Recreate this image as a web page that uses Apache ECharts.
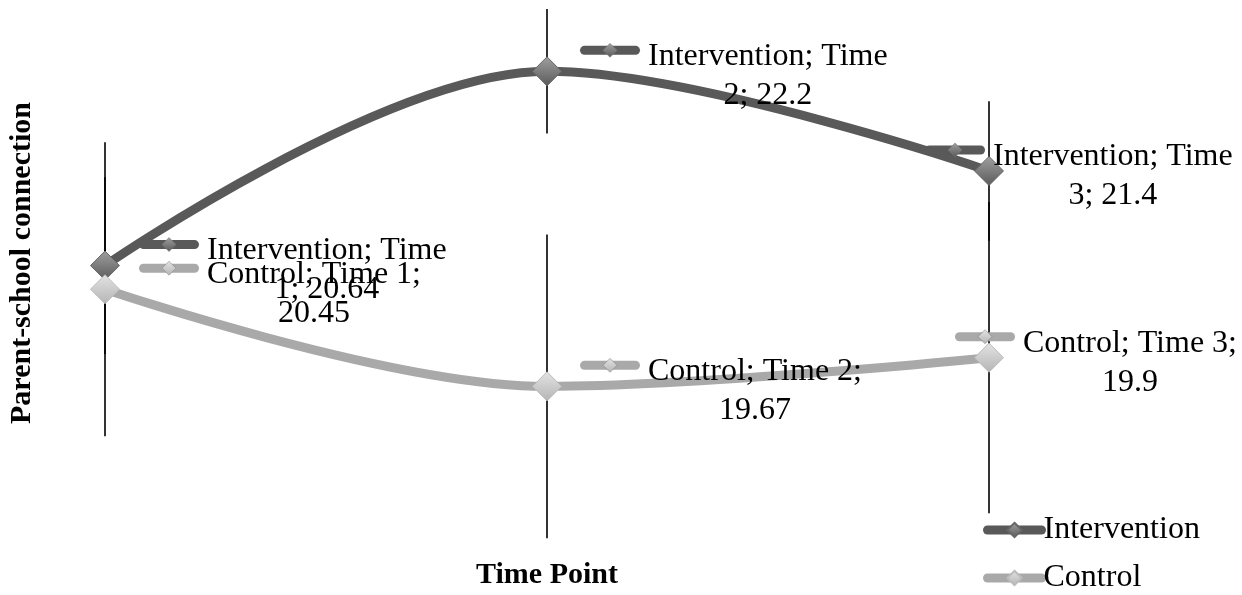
<!DOCTYPE html>
<html>
<head>
<meta charset="utf-8">
<script src="https://cdn.jsdelivr.net/npm/echarts@6/dist/echarts.min.js"></script>
</head>
<body style="margin:0;background:#fff">
<div id="main" style="width:1242px;height:595px;"></div>

<script type="text/javascript">
// data
var timePoints = ['Time 1', 'Time 2', 'Time 3'];
var intervention = [20.64, 22.2, 21.4];
var control = [20.45, 19.67, 19.9];
// error bar half-lengths (estimated)
var interventionErr = [0.71, 0.5, 0.56];
var controlErr = [1.18, 1.22, 1.25];

// label key horizontal shift from the point (Excel pushes the last ones left)
var interventionLabelDx = [64, 63, -34];
var controlLabelDx = [64, 63, -4];

var FONT = '"Liberation Serif", "Times New Roman", serif';
var DARK = '#595959';
var LIGHT = '#a9a9a9';

function grad(top, bottom) {
    return new echarts.graphic.LinearGradient(0, 0, 0, 1, [
        { offset: 0, color: top },
        { offset: 1, color: bottom }
    ]);
}

// wrap "Name; Time n; value" like excel does
function wrapLabel(s, maxChars) {
    var words = s.split(' ');
    var lines = [];
    var cur = '';
    for (var i = 0; i < words.length; i++) {
        var t = cur ? cur + ' ' + words[i] : words[i];
        if (t.length > maxChars && cur) {
            lines.push(cur);
            cur = words[i];
        } else {
            cur = t;
        }
    }
    lines.push(cur);
    return lines;
}

function errData(vals, errs) {
    var d = [];
    for (var i = 0; i < vals.length; i++) d.push([i, vals[i], errs[i]]);
    return d;
}

function errSeries(name, vals, errs) {
    return {
        type: 'custom',
        name: name + ' err',
        z: 1,
        silent: true,
        data: errData(vals, errs),
        renderItem: function (params, api) {
            var i = api.value(0), v = api.value(1), e = api.value(2);
            var p1 = api.coord([i, v + e]);
            var p2 = api.coord([i, v - e]);
            return {
                type: 'line',
                shape: { x1: p1[0], y1: p1[1], x2: p2[0], y2: p2[1] },
                style: { stroke: '#000', lineWidth: 1.6 }
            };
        }
    };
}

function labelSeries(name, vals, dxs, lineColor, dTop, dBottom) {
    return {
        type: 'custom',
        name: name + ' labels',
        z: 10,
        silent: true,
        data: errData(vals, dxs),
        renderItem: function (params, api) {
            var i = api.value(0), v = api.value(1), dx = api.value(2);
            var p = api.coord([i, v]);
            var kx = p[0] + dx, ky = p[1] - 21;
            var lines = wrapLabel(name + '; ' + timePoints[i] + '; ' + v, 18);
            var txt = lines.map(function (l) { return '{c|' + l + '}'; }).join('\n');
            return {
                type: 'group',
                children: [{
                    type: 'rect',
                    shape: { x: kx - 30, y: ky - 4.5, width: 60, height: 9, r: 4.5 },
                    style: { fill: lineColor }
                }, {
                    type: 'polygon',
                    shape: { points: [[kx, ky - 7], [kx + 7, ky], [kx, ky + 7], [kx - 7, ky]] },
                    style: { fill: grad(dTop, dBottom), stroke: '#777', lineWidth: 0.5 }
                }, {
                    type: 'text',
                    x: kx + 38,
                    y: ky - 13,
                    style: {
                        text: txt,
                        align: 'left',
                        verticalAlign: 'top',
                        fill: '#000',
                        fontSize: 32,
                        fontFamily: FONT,
                        lineHeight: 39,
                        rich: {
                            c: { align: 'center', fontSize: 32, fontFamily: FONT, lineHeight: 39, fill: '#000' }
                        }
                    }
                }]
            };
        }
    };
}

var option = {
    backgroundColor: '#fff',
    animation: false,
    grid: { left: 105, right: 253, top: 34, height: 500 },
    xAxis: {
        type: 'category',
        data: timePoints,
        boundaryGap: false,
        name: 'Time Point',
        nameLocation: 'middle',
        nameGap: 28,
        nameTextStyle: { fontFamily: FONT, fontSize: 30, fontWeight: 'bold', color: '#000' },
        axisLine: { show: false },
        axisTick: { show: false },
        axisLabel: { show: false },
        splitLine: { show: false }
    },
    yAxis: {
        type: 'value',
        min: 18.5,
        max: 22.5,
        show: false
    },
    legend: {
        orient: 'vertical',
        left: 983,
        top: 514,
        padding: 0,
        itemWidth: 54,
        itemHeight: 18,
        itemGap: 16,
        data: ['Intervention', 'Control'],
        textStyle: { fontFamily: FONT, fontSize: 32, color: '#000', padding: [0, 0, 0, -3] },
        lineStyle: { width: 9, cap: 'round' }
    },
    graphic: [{
        type: 'text',
        x: 22,
        y: 263,
        rotation: Math.PI / 2,
        style: {
            text: 'Parent-school connection',
            fontFamily: FONT,
            fontSize: 30,
            fontWeight: 'bold',
            fill: '#000',
            align: 'center',
            verticalAlign: 'middle'
        }
    }],
    series: [
        errSeries('Intervention', intervention, interventionErr),
        errSeries('Control', control, controlErr),
        {
            name: 'Intervention',
            type: 'line',
            z: 3,
            data: intervention,
            smooth: 0.35,
            symbol: 'diamond',
            symbolSize: 29,
            lineStyle: { color: DARK, width: 9, cap: 'round' },
            itemStyle: { color: grad('#a0a0a0', '#5a5a5a'), borderColor: '#666', borderWidth: 1 }
        },
        {
            name: 'Control',
            type: 'line',
            z: 3,
            data: control,
            smooth: 0.35,
            symbol: 'diamond',
            symbolSize: 29,
            lineStyle: { color: LIGHT, width: 9, cap: 'round' },
            itemStyle: { color: grad('#e4e4e4', '#b4b4b4'), borderColor: '#bbb', borderWidth: 1 }
        },
        labelSeries('Intervention', intervention, interventionLabelDx, DARK, '#a0a0a0', '#5a5a5a'),
        labelSeries('Control', control, controlLabelDx, LIGHT, '#e4e4e4', '#b4b4b4')
    ]
};

var myChart = echarts.init(document.getElementById('main'));
myChart.setOption(option);
</script>
</body>
</html>
